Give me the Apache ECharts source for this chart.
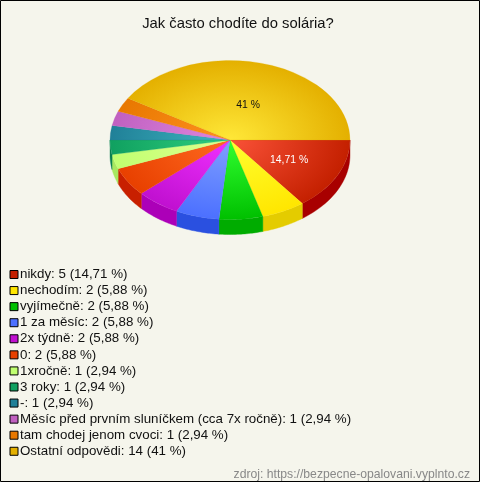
<!DOCTYPE html>
<html>
<head>
<meta charset="utf-8">
<style>html,body{margin:0;padding:0;background:#f5f5ec}#c{width:480px;height:482px}</style>
<script src="https://cdn.jsdelivr.net/npm/echarts@6/dist/echarts.min.js"></script>
</head>
<body>
<div id="c"></div>
<script>
var categories = ['nikdy','nechodím','vyjímečně','1 za měsíc','2x týdně','0','1xročně','3 roky','-','Měsíc před prvním sluníčkem (cca 7x ročně)','tam chodej jenom cvoci','Ostatní odpovědi'];
var counts = [5,2,2,2,2,2,1,1,1,1,1,14];
var percentLabels = ['14,71 %','5,88 %','5,88 %','5,88 %','5,88 %','5,88 %','2,94 %','2,94 %','2,94 %','2,94 %','2,94 %','41 %'];
var sliceLabels = ['14,71 %','','','','','','','','','','','41 %'];
var labelColors = ['#fff','','','','','','','','','','','#111'];
var rimColors = ['#c42000','#ffe600','#00c000','#4c70ff','#c010d0','#e84000','#c0ff70','#10a060','#208098','#c060c0','#e87800','#e4b000'];
var hubColors = ['#fa5238','#ffff30','#30ff30','#80a0ff','#f030ff','#ff6a20','#e0ff90','#30d080','#40b8c0','#e088e0','#ff9020','#ffe838'];
var wallColors = ['#a80000','#e4cc00','#00ac00','#2a50e0','#ac00b8','#c82000','#a8e860','#0a8050','#106878','#a04aa0','#c06000','#c09000'];

var CX = 230, CY = 140, RX = 120, RY = 79.5, DEPTH = 15;
var total = counts.reduce(function (a, b) { return a + b; }, 0);

function sliceRange(i) {
  var before = 0;
  for (var k = 0; k < i; k++) before += counts[k];
  return [before / total * Math.PI * 2, (before + counts[i]) / total * Math.PI * 2];
}

function renderSlice(i) {
  return function () {
    var r = sliceRange(i), children = [];
    var a0 = r[0], a1 = Math.min(r[1], Math.PI);
    if (a0 < Math.PI) {
      var pts = [], n = 24, t, a;
      for (t = 0; t <= n; t++) { a = a0 + (a1 - a0) * t / n; pts.push([CX + RX * Math.cos(a), CY + RY * Math.sin(a)]); }
      for (t = n; t >= 0; t--) { a = a0 + (a1 - a0) * t / n; pts.push([CX + RX * Math.cos(a), CY + RY * Math.sin(a) + DEPTH]); }
      children.push({ type: 'polygon', shape: { points: pts }, style: { fill: wallColors[i], stroke: wallColors[i], lineWidth: 0.4 } });
    }
    children.push({
      type: 'sector', x: CX, y: CY, scaleX: 1, scaleY: RY / RX,
      shape: { cx: 0, cy: 0, r: RX, r0: 0, startAngle: r[0], endAngle: r[1], clockwise: true },
      style: {
        fill: new echarts.graphic.RadialGradient(0, 0, RX, [
          { offset: 0, color: hubColors[i] },
          { offset: 1, color: rimColors[i] }
        ], true),
        stroke: rimColors[i], lineWidth: 0.3
      }
    });
    if (sliceLabels[i]) {
      var mid = (r[0] + r[1]) / 2, k = i === 11 ? 0.455 : 0.58;
      children.push({
        type: 'text',
        style: {
          x: CX + RX * 0.55 * Math.cos(mid), y: CY + RY * k * Math.sin(mid),
          text: sliceLabels[i], fill: labelColors[i], align: 'center', verticalAlign: 'middle',
          font: '10.4px "Liberation Sans", Arial, sans-serif'
        }
      });
    }
    return { type: 'group', children: children };
  };
}

var font = '"Liberation Sans", Arial, sans-serif';
var series = categories.map(function (name, i) {
  return {
    type: 'custom', name: name, coordinateSystem: 'none',
    data: [[counts[i]]], renderItem: renderSlice(i), silent: true,
    itemStyle: { color: rimColors[i] }
  };
});

var chart = echarts.init(document.getElementById('c'), null, { renderer: 'canvas' });
chart.setOption({
  animation: false,
  backgroundColor: '#f5f5ec',
  title: [
    { text: 'Jak často chodíte do solária?', left: 233, top: 11, textAlign: 'center',
      textStyle: { fontFamily: font, fontSize: 14.8, fontWeight: 'normal', color: '#111' } },
    { text: 'zdroj: https://bezpecne-opalovani.vyplnto.cz', right: 5, top: 464,
      textStyle: { fontFamily: font, fontSize: 12.2, fontWeight: 'normal', color: '#888' } }
  ],
  legend: {
    orient: 'vertical', left: 9.5, top: 267.5, itemWidth: 8, itemHeight: 8, itemGap: 2.07,
    selectedMode: false, icon: 'rect', padding: 0,
    itemStyle: { borderColor: '#000', borderWidth: 1 },
    textStyle: { fontFamily: font, fontSize: 13.33, color: '#111', lineHeight: 14, padding: [0, 0, 0, -3] },
    formatter: function (name) {
      var i = categories.indexOf(name);
      return name + ': ' + counts[i] + ' (' + percentLabels[i] + ')';
    },
    data: categories
  },
  graphic: [{
    type: 'rect', silent: true, z: 100,
    shape: { x: 0.5, y: 0.5, width: 479, height: 481 },
    style: { fill: null, stroke: '#000', lineWidth: 1 }
  }],
  series: series
});
</script>
</body>
</html>
